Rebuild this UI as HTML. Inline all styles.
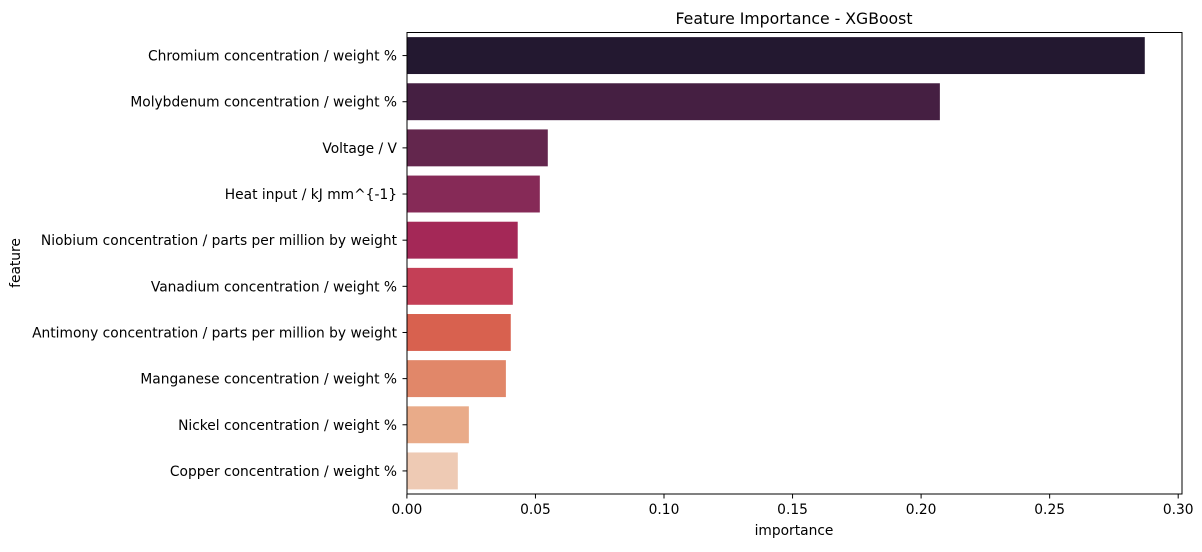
<!DOCTYPE html>
<html><head><meta charset="utf-8"><style>
body{margin:0;background:#fff;}
svg text{font-family:"DejaVu Sans","Liberation Sans",sans-serif;fill:#000;}
</style></head><body>
<svg id="chart" width="1202" height="547" xmlns="http://www.w3.org/2000/svg">
<rect width="1202" height="547" fill="#fff"/>
<text x="794" y="24" font-size="15.7" text-anchor="middle">Feature Importance - XGBoost</text>
<g id="bars"></g>
<g id="yticks"></g>
<g id="xticks"></g>
<rect x="407" y="32.5" width="775" height="461.5" fill="none" stroke="#000" stroke-width="1"/>
<text x="794" y="535" font-size="13.8" text-anchor="middle">importance</text>
<text transform="translate(20,263) rotate(-90)" font-size="13.8" text-anchor="middle">feature</text>
</svg>
<script>
const features=["Chromium concentration / weight %","Molybdenum concentration / weight %","Voltage / V","Heat input / kJ mm^{-1}","Niobium concentration / parts per million by weight","Vanadium concentration / weight %","Antimony concentration / parts per million by weight","Manganese concentration / weight %","Nickel concentration / weight %","Copper concentration / weight %"];
const importance=[0.2870,0.2073,0.0548,0.0517,0.0431,0.0412,0.0404,0.0385,0.0241,0.0198];
const colors=["#231830","#451f42","#63264d","#862a57","#a42857","#c43f56","#d8614f","#e18769","#e9ab89","#eecab4"];
const xTickValues=[0,0.05,0.10,0.15,0.20,0.25,0.30];
const xTickLabels=["0.00","0.05","0.10","0.15","0.20","0.25","0.30"];
const NS="http://www.w3.org/2000/svg";
const x0=406.9, pxPer=128.55/0.05, plotTop=32.5, plotBottom=494, band=(plotBottom-plotTop)/features.length;
const X=v=>x0+v*pxPer, Yc=i=>plotTop+band*(i+0.5);
const bars=document.getElementById('bars'),yt=document.getElementById('yticks'),xt=document.getElementById('xticks');
features.forEach((f,i)=>{
 const r=document.createElementNS(NS,'rect');
 
 
 r.setAttribute('x',X(0));r.setAttribute('y',Yc(i)-band*0.4);
 r.setAttribute('width',X(importance[i])-X(0));r.setAttribute('height',band*0.8);
 r.setAttribute('fill',colors[i]);bars.appendChild(r);
 const l=document.createElementNS(NS,'line');
 
 
 l.setAttribute('x1',402.5);l.setAttribute('x2',407);l.setAttribute('y1',Yc(i));l.setAttribute('y2',Yc(i));l.setAttribute('stroke','#000');yt.appendChild(l);
 const t=document.createElementNS(NS,'text');
 
 
 t.setAttribute('x',397);t.setAttribute('y',Yc(i)+5);t.setAttribute('text-anchor','end');t.setAttribute('font-size','13.8');
 t.textContent=f;yt.appendChild(t);
});
xTickValues.forEach((v,i)=>{
 const l=document.createElementNS(NS,'line');
 
 
 l.setAttribute('x1',X(v));l.setAttribute('x2',X(v));l.setAttribute('y1',494);l.setAttribute('y2',498.5);l.setAttribute('stroke','#000');xt.appendChild(l);
 const t=document.createElementNS(NS,'text');
 
 
 t.setAttribute('x',X(v));t.setAttribute('y',514);t.setAttribute('text-anchor','middle');t.setAttribute('font-size','13.8');
 t.textContent=xTickLabels[i];xt.appendChild(t);
});
</script>
</body></html>
